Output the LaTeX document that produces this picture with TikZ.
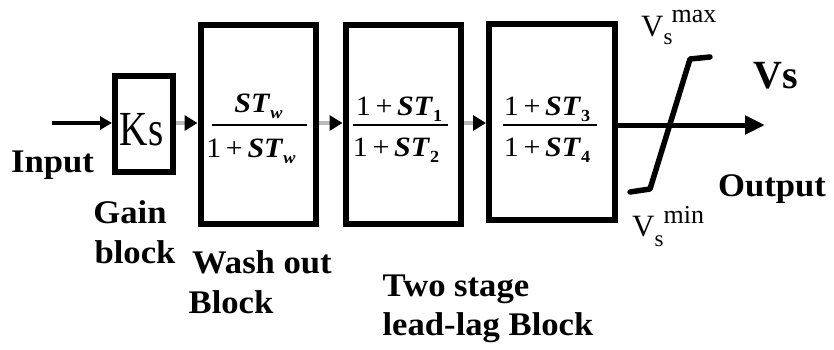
\documentclass[tikz,border=0pt]{standalone}
\usepackage{fontspec}
\setmainfont{Liberation Serif}
\newfontfamily\lblfont[FakeStretch=1.05]{Liberation Serif}
\newfontfamily\fracfont[FakeStretch=1.07]{Liberation Serif}
\newfontfamily\ksfont[FakeStretch=0.8]{Liberation Serif}
\usetikzlibrary{arrows.meta,calc}
\newcommand\subidx[1]{\raisebox{-6pt}{\fontsize{17}{17}\selectfont\bfseries #1}}
\newcommand\STx{\textbf{\textit{ST}}}
\begin{document}
\begin{tikzpicture}[x=1pt,y=-1pt,
  blk/.style={draw=black,line width=6pt,fill=white,inner sep=0pt},
  lbl/.style={font=\lblfont\bfseries\fontsize{33}{35}\selectfont,inner sep=0pt,anchor=base},
  fracnum/.style={font=\fracfont\fontsize{28}{30}\selectfont,inner sep=0pt,anchor=base},
  fracbar/.style={line width=1.6pt},
  grayarrow/.style={draw=gray!55,line width=4pt,-{Triangle[length=13pt,width=15pt,color=black]}},
  blackarrow/.style={draw=black,line width=4pt,-{Triangle[length=12pt,width=13pt]}},
  outarrow/.style={draw=black,line width=5pt,-{Triangle[length=20pt,width=18pt]}},
  sat/.style={draw=black,line width=5.5pt,line cap=round,line join=round},
  supfont/.style={font=\fontsize{31}{33}\selectfont,inner sep=0pt,anchor=base west}
]
\fill[white] (0,0) rectangle (834,349);
\useasboundingbox (0,0) rectangle (834,349);

% blocks
\node[blk,minimum width=58pt,minimum height=96pt] (ks) at (144,124) {};
\node[font=\ksfont\fontsize{49}{50}\selectfont,inner sep=0pt,anchor=base] (kstxt) at (141.5,145) {Ks};
\node[blk,minimum width=115pt,minimum height=198.5pt] (wash) at (258,124.25) {};
\node[blk,minimum width=115pt,minimum height=198.5pt] (ll1) at (403,124.25) {};
\node[blk,minimum width=125.5pt,minimum height=196pt] (ll2) at (551.75,122) {};

% fractions
\node[fracnum] (wn) at (258.5,112) {\STx\subidx{\textit{w}}};
\node[fracnum] (wd) at (251,157) {1\,+\,\STx\subidx{\textit{w}}};
\draw[fracbar] (212,125) -- (307,125);
\node[fracnum] (an) at (399,115) {1\,+\,\STx\subidx{1}};
\node[fracnum] (ad) at (396,156) {1\,+\,\STx\subidx{2}};
\draw[fracbar] (353,125) -- (448,125);
\node[fracnum] (bn) at (547,115) {1\,+\,\STx\subidx{3}};
\node[fracnum] (bd) at (547,156) {1\,+\,\STx\subidx{4}};
\draw[fracbar] (503,125) -- (597,125);

% connectors
\coordinate (in) at (52,123);
\draw[blackarrow] (in) -- (in -| ks.west);
\draw[grayarrow] (ks.east |- 0,123) -- (wash.west |- 0,123);
\draw[grayarrow] (wash.east |- 0,123) -- (ll1.west |- 0,123);
\draw[grayarrow] (ll1.east |- 0,123) -- (ll2.west |- 0,123);
\coordinate (out) at (765,125);
\draw[outarrow] (ll2.east |- out) -- (out);

% saturation
\draw[sat] (630,192) -- (650,189) -- (690,59) -- (710,57);

% labels
\node[lbl] (input) at (52.5,172) {Input};
\node[lbl] (gain) at (130,223) {Gain};
\node[lbl] (gainb) at (135,263) {block};
\node[lbl] (wash1) at (262,273) {Wash out};
\node[lbl] (wash2) at (231,313) {Block};
\node[lbl] (two1) at (456,296) {Two stage};
\node[lbl] (two2) at (488,335) {lead-lag Block};
\node[lbl] (outp) at (772,196) {Output};
\node[font=\bfseries\fontsize{40}{41}\selectfont,inner sep=0pt,anchor=base] (vs) at (776,88) {Vs};

\node[supfont] (vmax) at (641,36) {V\raisebox{-8pt}{\fontsize{23}{23}\selectfont s}\kern-1pt\raisebox{14pt}{\fontsize{26}{26}\selectfont max}};
\node[supfont] (vmin) at (632,236) {V\raisebox{-10pt}{\fontsize{23}{23}\selectfont s}\kern0pt\raisebox{13pt}{\fontsize{26}{26}\selectfont min}};
\end{tikzpicture}
\end{document}
